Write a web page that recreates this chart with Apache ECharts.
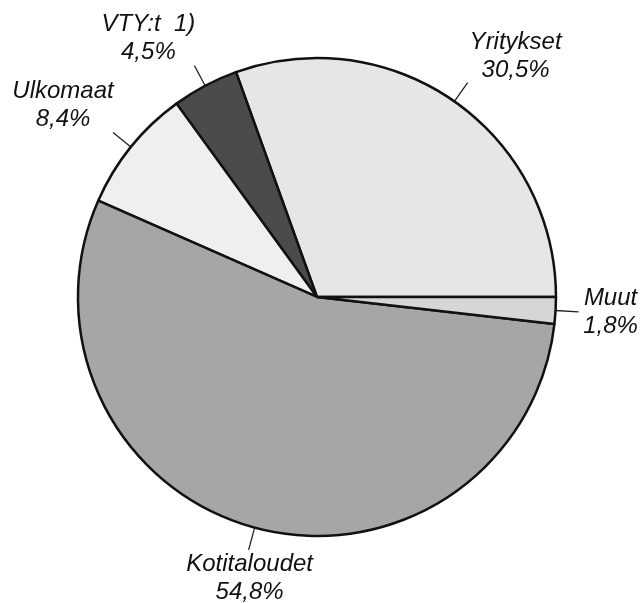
<!DOCTYPE html>
<html>
<head>
<meta charset="utf-8">
<script src="https://cdn.jsdelivr.net/npm/echarts@6/dist/echarts.min.js"></script>
<style>
  html, body { margin: 0; padding: 0; background: #fff; }
  #chart { width: 641px; height: 603px; }
</style>
</head>
<body>
<div id="chart"></div>
<script>
  // order goes counterclockwise starting from 3 o'clock
  const categories = ['Yritykset', 'VTY:t  1)', 'Ulkomaat', 'Kotitaloudet', 'Muut'];
  const shares = [30.5, 4.5, 8.4, 54.8, 1.8];

  const sliceColors = ['#e6e6e6', '#4b4b4b', '#efefef', '#a6a6a6', '#d6d6d6'];
  // label centre relative to the end of its leader line
  const labelOffsets = [[48, -26], [-46, -27], [-50, -27], [1, 28], [32, 1]];

  const formatShare = value => `${value.toFixed(1).replace('.', ',')}%`;

  const myChart = echarts.init(document.getElementById('chart'));

  myChart.setOption({
    animation: false,
    backgroundColor: '#fff',
    series: [
      {
        type: 'pie',
        center: ['49.45%', '49.25%'],
        radius: 239,
        startAngle: 0,
        clockwise: false,
        avoidLabelOverlap: false,
        emphasis: {
          disabled: true,
        },
        itemStyle: {
          borderColor: '#111',
          borderWidth: 2.5,
        },
        label: {
          show: true,
          position: 'outside',
          formatter: params => `${params.name}\n${formatShare(params.value)}`,
          fontFamily: 'Liberation Sans, Arial, sans-serif',
          fontStyle: 'italic',
          fontSize: 24,
          lineHeight: 28,
          color: '#111',
        },
        labelLine: {
          show: true,
          length: 23,
          length2: 0,
          smooth: false,
          lineStyle: {
            color: '#222',
            width: 1.3,
          },
        },
        labelLayout: (params) => {
          const pts = params.labelLinePoints;
          if (!pts) {
            return {};
          }
          const end = pts[pts.length - 1];
          const off = labelOffsets[params.dataIndex];
          return {
            x: end[0] + off[0],
            y: end[1] + off[1],
            align: 'center',
            verticalAlign: 'middle',
            labelLinePoints: pts,
          };
        },
        data: categories.map((name, i) => ({
          name,
          value: shares[i],
          itemStyle: {
            color: sliceColors[i],
          },
        })),
      },
    ],
  });
</script>
</body>
</html>
